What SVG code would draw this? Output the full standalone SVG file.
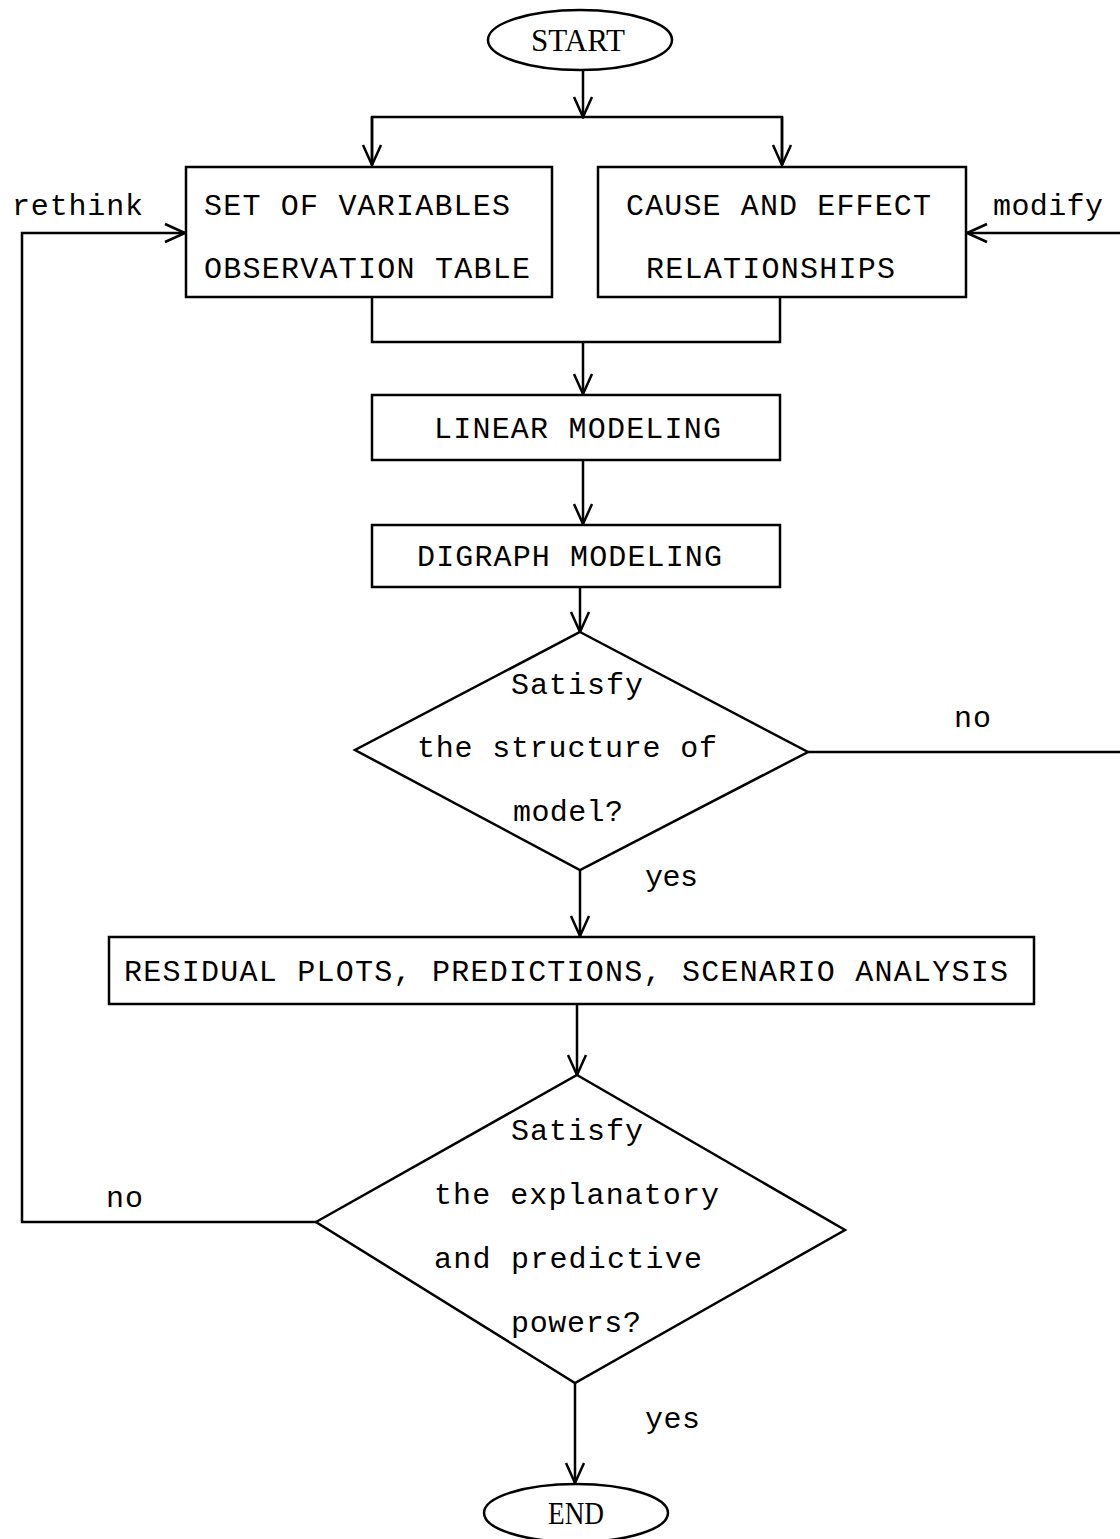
<svg xmlns="http://www.w3.org/2000/svg" width="1120" height="1539" viewBox="0 0 1120 1539">
<style>
.s{fill:#fff;stroke:#000;stroke-width:2.5}
.c{fill:none;stroke:#000;stroke-width:2.5}
.t{font-family:"Liberation Mono",monospace;font-size:30px;fill:#000}
.r{font-family:"Liberation Serif",serif;font-size:31px;fill:#000}
</style>
<defs>
<marker id="a" viewBox="0 0 24 24" refX="22" refY="12" markerWidth="24" markerHeight="24" markerUnits="userSpaceOnUse" orient="auto">
<polyline points="2,3 22,12 2,21" fill="none" stroke="#000" stroke-width="2.5"/>
</marker>
</defs>
<rect width="1120" height="1539" fill="#fff"/>
<g id="connectors">
<line class="c" x1="583" y1="70" x2="583" y2="117" marker-end="url(#a)"/>
<polyline class="c" points="372,165 372,117 782,117 782,165"/>
<line class="c" x1="372" y1="117" x2="372" y2="165" marker-end="url(#a)"/>
<line class="c" x1="782" y1="117" x2="782" y2="165" marker-end="url(#a)"/>
<polyline class="c" points="372,297 372,342 780,342 780,297"/>
<line class="c" x1="583" y1="342" x2="583" y2="394" marker-end="url(#a)"/>
<line class="c" x1="583" y1="460" x2="583" y2="524" marker-end="url(#a)"/>
<line class="c" x1="580" y1="587" x2="580" y2="632" marker-end="url(#a)"/>
<line class="c" x1="808" y1="752" x2="1122" y2="752"/>
<line class="c" x1="1122" y1="233" x2="967" y2="233" marker-end="url(#a)"/>
<line class="c" x1="580" y1="870" x2="580" y2="936" marker-end="url(#a)"/>
<line class="c" x1="577" y1="1004" x2="577" y2="1075" marker-end="url(#a)"/>
<polyline class="c" points="316,1222 22,1222 22,233 185,233" marker-end="url(#a)"/>
<line class="c" x1="575" y1="1383" x2="575" y2="1483" marker-end="url(#a)"/>
<text class="t" x="954" y="727" textLength="37" lengthAdjust="spacing">no</text>
<text class="t" x="645" y="886" textLength="53" lengthAdjust="spacing">yes</text>
<text class="t" x="106" y="1207" textLength="37" lengthAdjust="spacing">no</text>
<text class="t" x="645" y="1428" textLength="55" lengthAdjust="spacing">yes</text>
<text class="t" x="12" y="215" textLength="131" lengthAdjust="spacing">rethink</text>
<text class="t" x="993" y="215" textLength="110" lengthAdjust="spacing">modify</text>
</g>
<g id="start">
<ellipse class="s" cx="580" cy="40" rx="92" ry="30"/>
<text class="r" x="531" y="51" textLength="94" lengthAdjust="spacingAndGlyphs">START</text>
</g>
<g id="variables">
<rect class="s" x="186" y="167" width="366" height="130"/>
<text class="t" x="204" y="215" textLength="306" lengthAdjust="spacing">SET OF VARIABLES</text>
<text class="t" x="204" y="278" textLength="326" lengthAdjust="spacing">OBSERVATION TABLE</text>
</g>
<g id="cause">
<rect class="s" x="598" y="167" width="368" height="130"/>
<text class="t" x="626" y="215" textLength="305" lengthAdjust="spacing">CAUSE AND EFFECT</text>
<text class="t" x="646" y="278" textLength="249" lengthAdjust="spacing">RELATIONSHIPS</text>
</g>
<g id="linear">
<rect class="s" x="372" y="395" width="408" height="65"/>
<text class="t" x="434" y="438" textLength="287" lengthAdjust="spacing">LINEAR MODELING</text>
</g>
<g id="digraph">
<rect class="s" x="372" y="525" width="408" height="62"/>
<text class="t" x="417" y="566" textLength="305" lengthAdjust="spacing">DIGRAPH MODELING</text>
</g>
<g id="decision1">
<polygon class="s" points="580,632 808,752 580,870 355,750"/>
<text class="t" x="511" y="694" textLength="132" lengthAdjust="spacing">Satisfy</text>
<text class="t" x="417" y="757" textLength="300" lengthAdjust="spacing">the structure of</text>
<text class="t" x="513" y="821" textLength="110" lengthAdjust="spacing">model?</text>
</g>
<g id="residual">
<rect class="s" x="109" y="937" width="925" height="67"/>
<text class="t" x="124" y="981" textLength="884" lengthAdjust="spacing">RESIDUAL PLOTS, PREDICTIONS, SCENARIO ANALYSIS</text>
</g>
<g id="decision2">
<polygon class="s" points="577,1075 845,1230 575,1383 316,1222"/>
<text class="t" x="511" y="1140" textLength="132" lengthAdjust="spacing">Satisfy</text>
<text class="t" x="434" y="1204" textLength="285" lengthAdjust="spacing">the explanatory</text>
<text class="t" x="434" y="1268" textLength="268" lengthAdjust="spacing">and predictive</text>
<text class="t" x="511" y="1332" textLength="130" lengthAdjust="spacing">powers?</text>
</g>
<g id="end">
<ellipse class="s" cx="576" cy="1513" rx="92" ry="29"/>
<text class="r" x="548" y="1524" textLength="56" lengthAdjust="spacingAndGlyphs">END</text>
</g>
</svg>
